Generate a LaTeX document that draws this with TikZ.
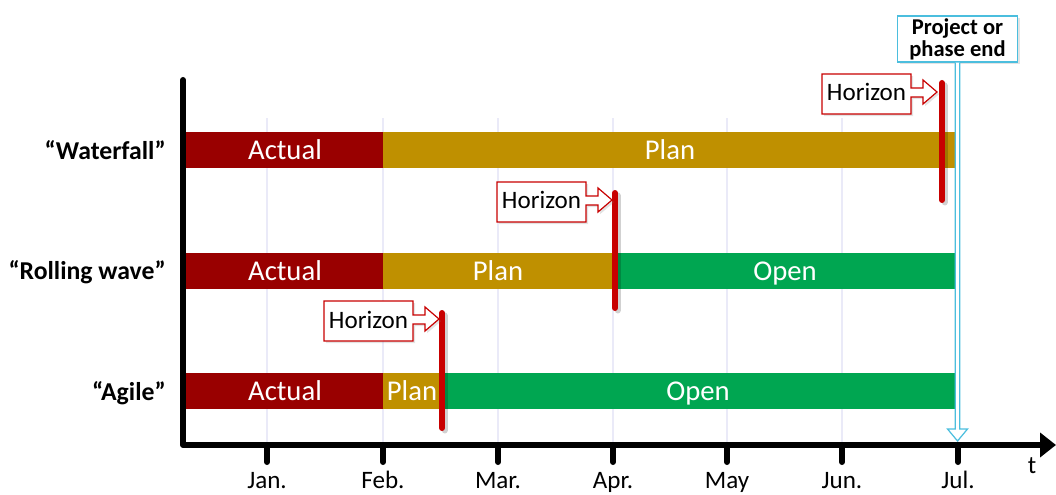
\documentclass[tikz,border=0pt]{standalone}
\usepackage{fontspec}
\setmainfont{Carlito}
\usetikzlibrary{arrows.meta,shadows}

\definecolor{actualred}{RGB}{153,0,0}
\definecolor{plangold}{RGB}{191,144,0}
\definecolor{opengreen}{RGB}{0,166,81}
\definecolor{horizonred}{RGB}{200,0,0}
\definecolor{gridlav}{RGB}{234,234,248}
\definecolor{endcyan}{RGB}{75,190,222}

\begin{document}
\begin{tikzpicture}[x=0.75pt,y=-0.75pt,
  axisline/.style={line width=4.5pt, line join=round, line cap=round},
  gridline/.style={gridlav, line width=0.9pt},
  bartext/.style={text=white, anchor=base, inner sep=0pt, font=\fontsize{21.5}{24}\selectfont},
  rowlabel/.style={anchor=base east, inner sep=0pt, font=\fontsize{19.3}{22}\selectfont\bfseries},
  monthlabel/.style={anchor=base, inner sep=0pt, font=\fontsize{18.8}{22}\selectfont},
  horizonline/.style={horizonred, line width=4.5pt, line cap=round},
  softshadow/.style={drop shadow={opacity=0.22, shadow xshift=1.6pt, shadow yshift=-1.6pt}},
  pics/horizon/.style={code={
    \draw[horizonred, line width=0.9pt, fill=white, line join=miter, softshadow]
      (0,0) -- (89,0) -- (89,14) -- (101,14) -- (101,6) -- (115,18)
      -- (101,30) -- (101,23) -- (89,23) -- (89,40) -- (0,40) -- cycle;
    \node[inner sep=0pt, anchor=base, font=\fontsize{18.8}{22}\selectfont]
      (-text) at (44.5,27) {Horizon};
  }}]
\useasboundingbox (0,0) rectangle (1056,495);

% month grid
\foreach \mx in {267,383,498,613,727,842,958}
  \draw[gridline] (\mx,118) -- (\mx,443);

% bars: Waterfall
\fill[actualred] (185,132) rectangle (383,168);
\fill[plangold]  (383,132) rectangle (956,168);
% bars: Rolling wave
\fill[actualred] (185,253) rectangle (383,289);
\fill[plangold]  (383,253) rectangle (614,289);
\fill[opengreen] (614,253) rectangle (956,289);
% bars: Agile
\fill[actualred] (185,373) rectangle (383,409);
\fill[plangold]  (383,373) rectangle (441,409);
\fill[opengreen] (441,373) rectangle (956,409);

\node[bartext] (wfA) at (285,159.5) {Actual};
\node[bartext] (wfP) at (670,159.5) {Plan};
\node[bartext] (rwA) at (285,280.5) {Actual};
\node[bartext] (rwP) at (498,280.5) {Plan};
\node[bartext] (rwO) at (785,280.5) {Open};
\node[bartext] (agA) at (285,400.5) {Actual};
\node[bartext] (agP) at (412,400.5) {Plan};
\node[bartext] (agO) at (698,400.5) {Open};

% row labels
\node[rowlabel] (lw) at (166,160) {“Waterfall”};
\node[rowlabel] (lr) at (166,280) {“Rolling wave”};
\node[rowlabel] (la) at (166,400) {“Agile”};

% axes
\coordinate (ytop) at (183,80);
\coordinate (origin) at (183,445);
\coordinate (xend) at (1056,445);
\draw[axisline, -{Triangle[length=12pt,width=18pt]}] (ytop) -- (origin) -- (xend);
\foreach \mx/\mn in {267/Jan.,383/Feb.,498/Mar.,613/Apr.,727/May,842/Jun.,958/Jul.}{
  \draw[line width=4.5pt, line cap=round] (\mx,446) -- (\mx,462);
  \node[monthlabel] at (\mx,488) {\mn};
}
\node[monthlabel] (tlab) at (1032,473) {t};

% project or phase end marker
\node[draw=endcyan, line width=1.1pt, fill=white, softshadow, align=center,
      minimum width=90pt, minimum height=34.5pt, inner sep=0pt,
      font=\fontsize{16.9}{16.5}\selectfont\bfseries] (pend) at (957.5,39) {Project or\\phase end};
\coordinate (pendtip) at (957.5,441);
\draw[endcyan, line width=0.9pt, fill=white, line join=miter]
  (pend.south -| 955.3,0) -- (955.3,429) -- (947.5,429) -- (pendtip)
  -- (967.5,429) -- (959.7,429) -- (pend.south -| 959.7,0);

% horizon markers
\foreach \hx/\ht/\hb [count=\i] in {942/83/200, 615/193/308, 442/313/428}{
  \draw[black, opacity=0.18, line width=4.5pt, line cap=round] (\hx+2.5,\ht+2.5) -- (\hx+2.5,\hb+2.5);
  \coordinate (h\i top) at (\hx,\ht);
  \coordinate (h\i bot) at (\hx,\hb);
  \draw[horizonline] (h\i top) -- (h\i bot);
}
\pic (hw) at (822,74) {horizon};
\pic (hr) at (497,182) {horizon};
\pic (ha) at (324,301) {horizon};

\end{tikzpicture}
\end{document}
